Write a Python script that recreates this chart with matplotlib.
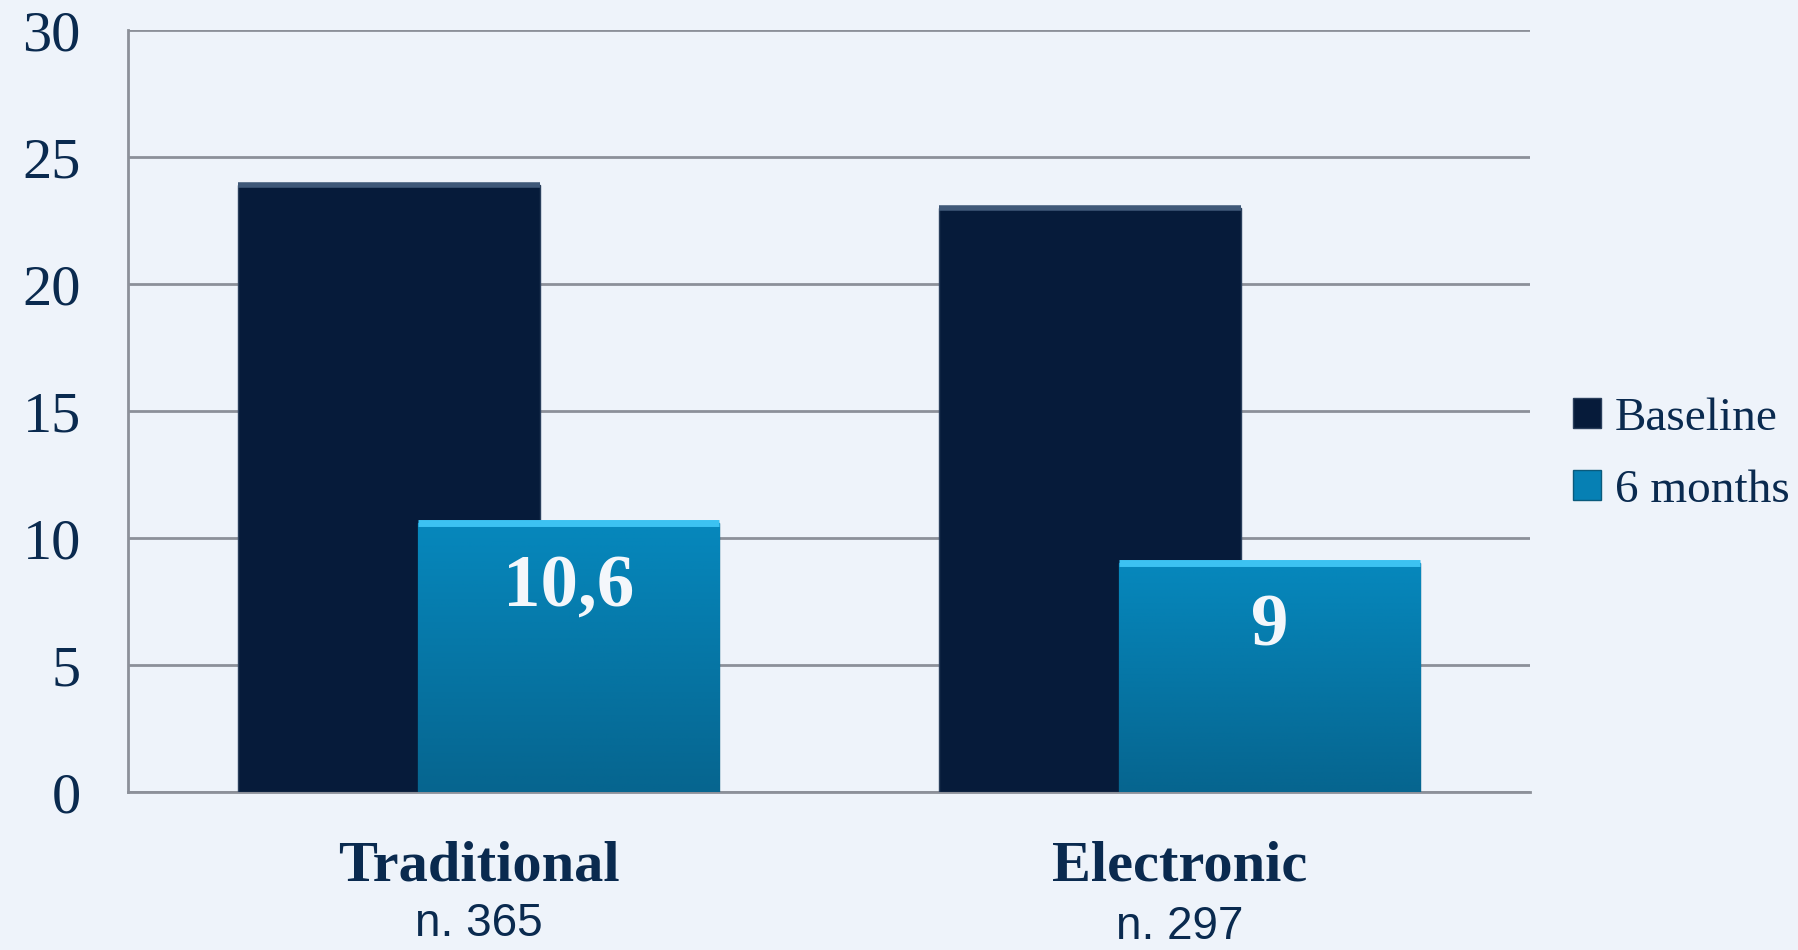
import matplotlib.pyplot as plt
import numpy as np
from matplotlib.colors import LinearSegmentedColormap

categories = ["Traditional", "Electronic"]
sample_sizes = ["n. 365", "n. 297"]
baseline = [23.9, 23.0]
six_months = [10.6, 9.0]
value_labels = ["10,6", "9"]

bg = "#EEF3FA"
text_col = "#0A2A4F"
dark = "#061B3A"
blue = "#0680B4"

fig = plt.figure(figsize=(17.98, 9.5), dpi=100, facecolor=bg)
ax = fig.add_axes([0.0712, 0.1663, 0.7798, 0.8021], facecolor=bg)

x = np.arange(len(categories))
width = 0.43
off = 0.128

b1 = ax.bar(x - off, baseline, width, color=dark, edgecolor="#2a3f5c", linewidth=1, zorder=3, label="Baseline")
b2 = ax.bar(x + off, six_months, width, color=blue, edgecolor="#0a5a7c", linewidth=1, zorder=4, label="6 months")

# vertical gradient on the 6 month bars
grad = np.linspace(0, 1, 256).reshape(-1, 1)
cmap = LinearSegmentedColormap.from_list("g", ["#06658F", "#0688BD"])
for rect in b2:
    x0, y0 = rect.get_x(), rect.get_y()
    w, h = rect.get_width(), rect.get_height()
    im = ax.imshow(grad, extent=(x0, x0 + w, y0, y0 + h), origin="lower", cmap=cmap,
                   aspect="auto", zorder=4.5)
    im.set_clip_path(rect)
    ax.plot([x0, x0 + w], [y0 + h, y0 + h], color="#3CC2F2", lw=5, zorder=5, solid_capstyle="butt")
for rect in b1:
    x0, h, w = rect.get_x(), rect.get_height(), rect.get_width()
    ax.plot([x0, x0 + w], [h, h], color="#3f5878", lw=4, zorder=3.5, solid_capstyle="butt")

for rect, lab in zip(b2, value_labels):
    ax.annotate(lab, (rect.get_x() + rect.get_width() / 2, rect.get_height()),
                xytext=(0, -22), textcoords="offset points", ha="center", va="top",
                color="#F4F7FB", fontsize=54, fontweight="bold", family="Liberation Serif", zorder=6)

ax.set_ylim(0, 30)
ax.set_xlim(-0.5, 1.5)
ax.set_yticks(range(0, 31, 5))
ax.yaxis.grid(True, color="#8C9099", linewidth=2, zorder=0)
ax.set_axisbelow(True)
for s in ["top", "right"]:
    ax.spines[s].set_visible(False)
ax.spines["left"].set_color("#8C9099")
ax.spines["left"].set_linewidth(2)
ax.spines["bottom"].set_color("#8C9099")
ax.spines["bottom"].set_linewidth(2)
ax.tick_params(axis="y", length=0, pad=34, labelsize=42, labelcolor=text_col)
ax.tick_params(axis="x", length=0, pad=35)
for t in ax.get_yticklabels():
    t.set_family("Liberation Serif")

ax.set_xticks(x)
ax.set_xticklabels(categories, fontsize=42, fontweight="bold", family="Liberation Serif", color=text_col)

for i, n in enumerate(sample_sizes):
    ax.annotate(n, (x[i], 0), xycoords=("data", "axes fraction"), xytext=(0, -95 - 2 * i),
                textcoords="offset points", ha="center", va="center",
                fontsize=33, family="Liberation Sans", color=text_col)

leg = ax.legend(loc="center left", bbox_to_anchor=(1.0, 0.443), frameon=False,
                prop={"family": "Liberation Serif", "size": 34}, labelcolor=text_col,
                handlelength=0.6, handleheight=0.6, handletextpad=0.3, labelspacing=0.62)

fig.savefig("out.png", dpi=100, facecolor=bg)
